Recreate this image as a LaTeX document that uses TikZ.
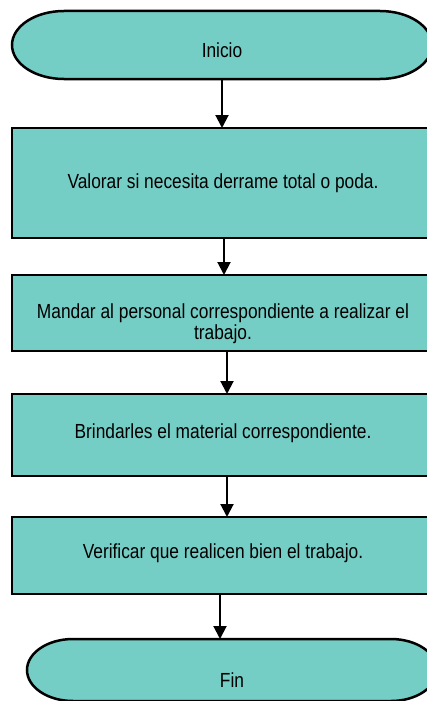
\documentclass[tikz,border=0pt]{standalone}
\usepackage{fontspec}
\setmainfont{Liberation Sans}[FakeStretch=0.85]
\usetikzlibrary{arrows.meta,backgrounds}
\definecolor{tealfill}{RGB}{117,206,198}
\begin{document}
\begin{tikzpicture}[x=1pt,y=1pt,
  box/.style={draw=black,line width=2.5pt,fill=tealfill,minimum width=422pt,inner sep=0pt,outer sep=0pt},
  termnode/.style={inner sep=0pt,outer sep=0pt},
  termshape/.style={draw=black,line width=2.5pt,fill=tealfill},
  lbl/.style={font=\fontsize{20.4}{21}\selectfont,align=center,text=black,inner sep=0pt},
  conn/.style={line width=2pt,-{Triangle[width=13pt,length=13pt]}}]
\useasboundingbox (0,0) rectangle (427,-701);

% start terminator
\node[termnode,minimum width=420pt,minimum height=68pt,
  label={[lbl,yshift=-5pt]center:Inicio}] (ini) at (222,-45) {};
% process boxes
\node[box,minimum height=110pt,
  label={[lbl]center:Valorar si necesita derrame total o poda.}] (b1) at (223,-183) {};
\node[box,minimum height=76pt,
  label={[lbl,yshift=-11pt]center:Mandar al personal correspondiente a realizar el\\trabajo.}] (b2) at (223,-313) {};
\node[box,minimum height=82pt,
  label={[lbl,yshift=2pt]center:Brindarles el material correspondiente.}] (b3) at (223,-435) {};
\node[box,minimum height=77pt,
  label={[lbl,yshift=2.5pt]center:Verificar que realicen bien el trabajo.}] (b4) at (223,-555.5) {};
% end terminator
\node[termnode,minimum width=410pt,minimum height=62pt,
  label={[lbl,yshift=-10pt]center:Fin}] (fin) at (232,-670) {};

\begin{scope}[on background layer]
\draw[termshape] ([xshift=52pt]ini.north west) -- ([xshift=-52pt]ini.north east)
  arc[start angle=90,end angle=-90,x radius=52pt,y radius=34pt]
  -- ([xshift=52pt]ini.south west)
  arc[start angle=270,end angle=90,x radius=52pt,y radius=34pt] -- cycle;
\draw[termshape] ([xshift=46pt]fin.north west) -- ([xshift=-46pt]fin.north east)
  arc[start angle=90,end angle=-90,x radius=46pt,y radius=31pt]
  -- ([xshift=46pt]fin.south west)
  arc[start angle=270,end angle=90,x radius=46pt,y radius=31pt] -- cycle;
\end{scope}

\draw[conn] (ini.south) -- (ini.south |- b1.north);
\draw[conn] ([xshift=1pt]b1.south) -- ([xshift=1pt]b1.south |- b2.north);
\draw[conn] ([xshift=4pt]b2.south) -- ([xshift=4pt]b2.south |- b3.north);
\draw[conn] ([xshift=4pt]b3.south) -- ([xshift=4pt]b3.south |- b4.north);
\draw[conn] ([xshift=-3pt]b4.south) -- ([xshift=-3pt]b4.south |- fin.north);
\end{tikzpicture}
\end{document}
